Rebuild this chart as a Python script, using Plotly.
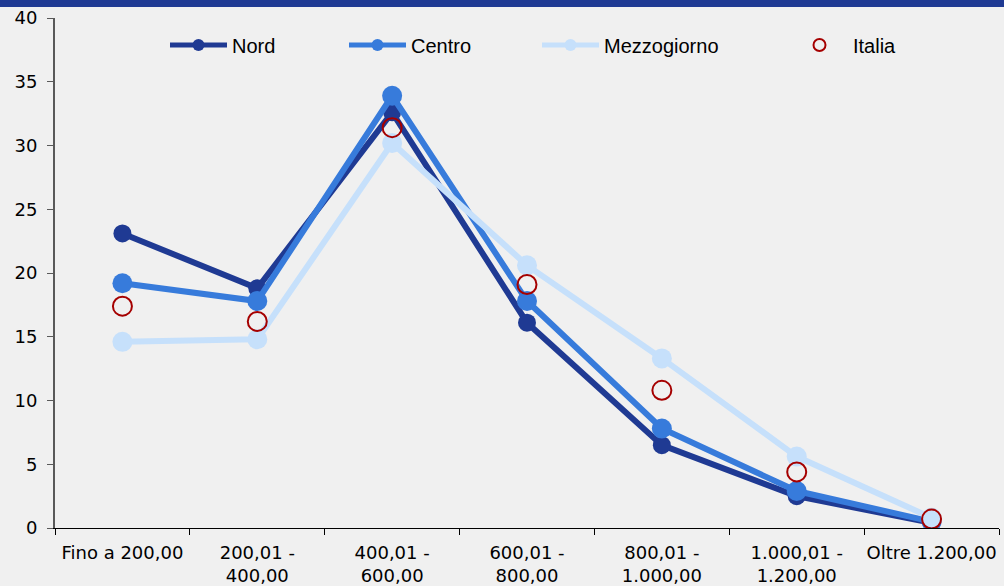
import plotly.graph_objects as go

categories = ["Fino a 200,00", "200,01 -<br>400,00", "400,01 -<br>600,00", "600,01 -<br>800,00",
              "800,01 -<br>1.000,00", "1.000,01 -<br>1.200,00", "Oltre 1.200,00"]
nord = [23.1, 18.8, 32.6, 16.1, 6.5, 2.5, 0.4]
centro = [19.2, 17.8, 33.9, 17.8, 7.8, 2.9, 0.5]
mezzogiorno = [14.6, 14.8, 30.2, 20.6, 13.3, 5.6, 0.8]
italia = [17.4, 16.2, 31.4, 19.1, 10.8, 4.4, 0.7]

BG = "#f0f0f0"
FONT = "DejaVu Sans"

fig = go.Figure()
fig.add_trace(go.Scatter(x=categories, y=nord, name="Nord", mode="lines+markers",
                         line=dict(color="#1f3a93", width=6),
                         marker=dict(color="#1f3a93", size=18), legend="legend", showlegend=True))
fig.add_trace(go.Scatter(x=categories, y=centro, name="Centro", mode="lines+markers",
                         line=dict(color="#377bdb", width=6),
                         marker=dict(color="#377bdb", size=20), legend="legend2", showlegend=True))
fig.add_trace(go.Scatter(x=categories, y=mezzogiorno, name="Mezzogiorno", mode="lines+markers",
                         line=dict(color="#c6e0fb", width=6),
                         marker=dict(color="#c6e0fb", size=20), legend="legend3", showlegend=True))
fig.add_trace(go.Scatter(x=categories, y=italia, name="Italia", mode="markers",
                         marker=dict(color="#a50000", size=19, symbol="circle-open",
                                     line=dict(color="#a50000", width=2)),
                         legend="legend4", showlegend=True))

W, H = 1004, 586
ml, mr, mt, mb = 55, 5, 18, 58
pw, ph = W - ml - mr, H - mt - mb

def lx(px):
    return (px - ml) / pw

def ly(py):
    return (H - mb - py) / ph

leg_common = dict(orientation="h", yanchor="middle", xanchor="left", bgcolor="rgba(0,0,0,0)",
                  itemwidth=57, itemsizing="constant",
                  font=dict(family="Liberation Sans", size=20, color="#000"))
fig.update_layout(
    width=W, height=H,
    showlegend=True,
    margin=dict(l=ml, r=mr, t=mt, b=mb, autoexpand=False),
    paper_bgcolor=BG, plot_bgcolor=BG,
    font=dict(family=FONT, size=18, color="#000"),
    legend=dict(x=lx(165), y=ly(45), **leg_common),
    legend2=dict(x=lx(344), y=ly(45), **leg_common),
    legend3=dict(x=lx(537), y=ly(45), **leg_common),
    legend4=dict(x=lx(786), y=ly(45), **leg_common),
    xaxis=dict(type="category", range=[-0.5, 6.5], showline=True, linecolor="#000", linewidth=1,
               ticks="outside", ticklen=6, tickcolor="#000", tickson="boundaries", tickangle=0,
               automargin=False, ticklabelstandoff=8,
               showgrid=False, zeroline=False, tickfont=dict(family=FONT, size=18)),
    yaxis=dict(range=[0, 40], dtick=5, showline=True, linecolor="#595959", linewidth=2,
               ticks="outside", ticklen=6, tickcolor="#595959", showgrid=False, zeroline=False,
               automargin=False,
               tickfont=dict(family=FONT, size=18), ticklabelstandoff=6),
    shapes=[dict(type="rect", xref="paper", yref="paper",
                 x0=lx(-2), x1=lx(W + 2), y0=ly(7), y1=ly(-2),
                 fillcolor="#1f3a93", line=dict(width=0), layer="above")],
)
fig.write_html("out.html", config={"displayModeBar": False},
               post_script="document.body.style.margin='0';")
